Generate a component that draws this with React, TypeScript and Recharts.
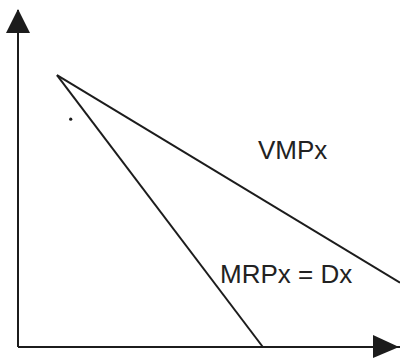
import React from "react";
import { ComposedChart, Line, XAxis, YAxis, ReferenceDot, ReferenceLine } from "recharts";

const mrpData = [
  { x: 10.2, y: 80.7 },
  { x: 64.1, y: 0 },
];
const vmpData = [
  { x: 10.2, y: 80.7 },
  { x: 100, y: 19.1 },
];
const labels = [
  { x: 62.8, y: 55.8, text: "VMPx" },
  { x: 52.9, y: 19.0, text: "MRPx = Dx" },
];
const strayDot = { x: 13.8, y: 67.6 };

const INK = "#1c1c1c";

const UpArrow = (props: any) => {
  const { cx, cy } = props;
  return (
    <polygon
      points={`${cx},${cy - 1} ${cx - 12},${cy + 23} ${cx + 12},${cy + 23}`}
      fill={INK}
    />
  );
};

const RightArrow = (props: any) => {
  const { cx, cy } = props;
  return (
    <polygon
      points={`${cx - 1},${cy} ${cx - 27},${cy - 12} ${cx - 27},${cy + 11}`}
      fill={INK}
    />
  );
};

const TextShape = (text: string) => (props: any) => {
  const { cx, cy } = props;
  return (
    <text
      x={cx}
      y={cy}
      fill="#222"
      fontSize={26}
      fontFamily="'Liberation Sans', Arial, sans-serif"
    >
      {text}
    </text>
  );
};

const Dot = (props: any) => {
  const { cx, cy } = props;
  return <circle cx={cx} cy={cy} r={1.6} fill={INK} />;
};

export default function App() {
  return (
    <div style={{ position: "absolute", left: 0, top: 0, width: 400, height: 358, background: "#fff" }}>
      <ComposedChart
        width={400}
        height={358}
        margin={{ top: 10, right: 0, bottom: 11, left: 18 }}
      >
        <XAxis type="number" dataKey="x" domain={[0, 100]} hide />
        <YAxis type="number" dataKey="y" domain={[0, 100]} hide />
        <ReferenceLine x={0} stroke={INK} strokeWidth={2} />
        <ReferenceLine y={0} stroke={INK} strokeWidth={2} />
        <Line
          data={mrpData}
          dataKey="y"
          stroke={INK}
          strokeWidth={2}
          dot={false}
          isAnimationActive={false}
        />
        <Line
          data={vmpData}
          dataKey="y"
          stroke={INK}
          strokeWidth={2}
          dot={false}
          isAnimationActive={false}
        />
        <ReferenceDot x={0} y={100} shape={UpArrow} />
        <ReferenceDot x={100} y={0} shape={RightArrow} />
        <ReferenceDot x={strayDot.x} y={strayDot.y} shape={Dot} />
        {labels.map((l) => (
          <ReferenceDot key={l.text} x={l.x} y={l.y} shape={TextShape(l.text)} />
        ))}
      </ComposedChart>
    </div>
  );
}
